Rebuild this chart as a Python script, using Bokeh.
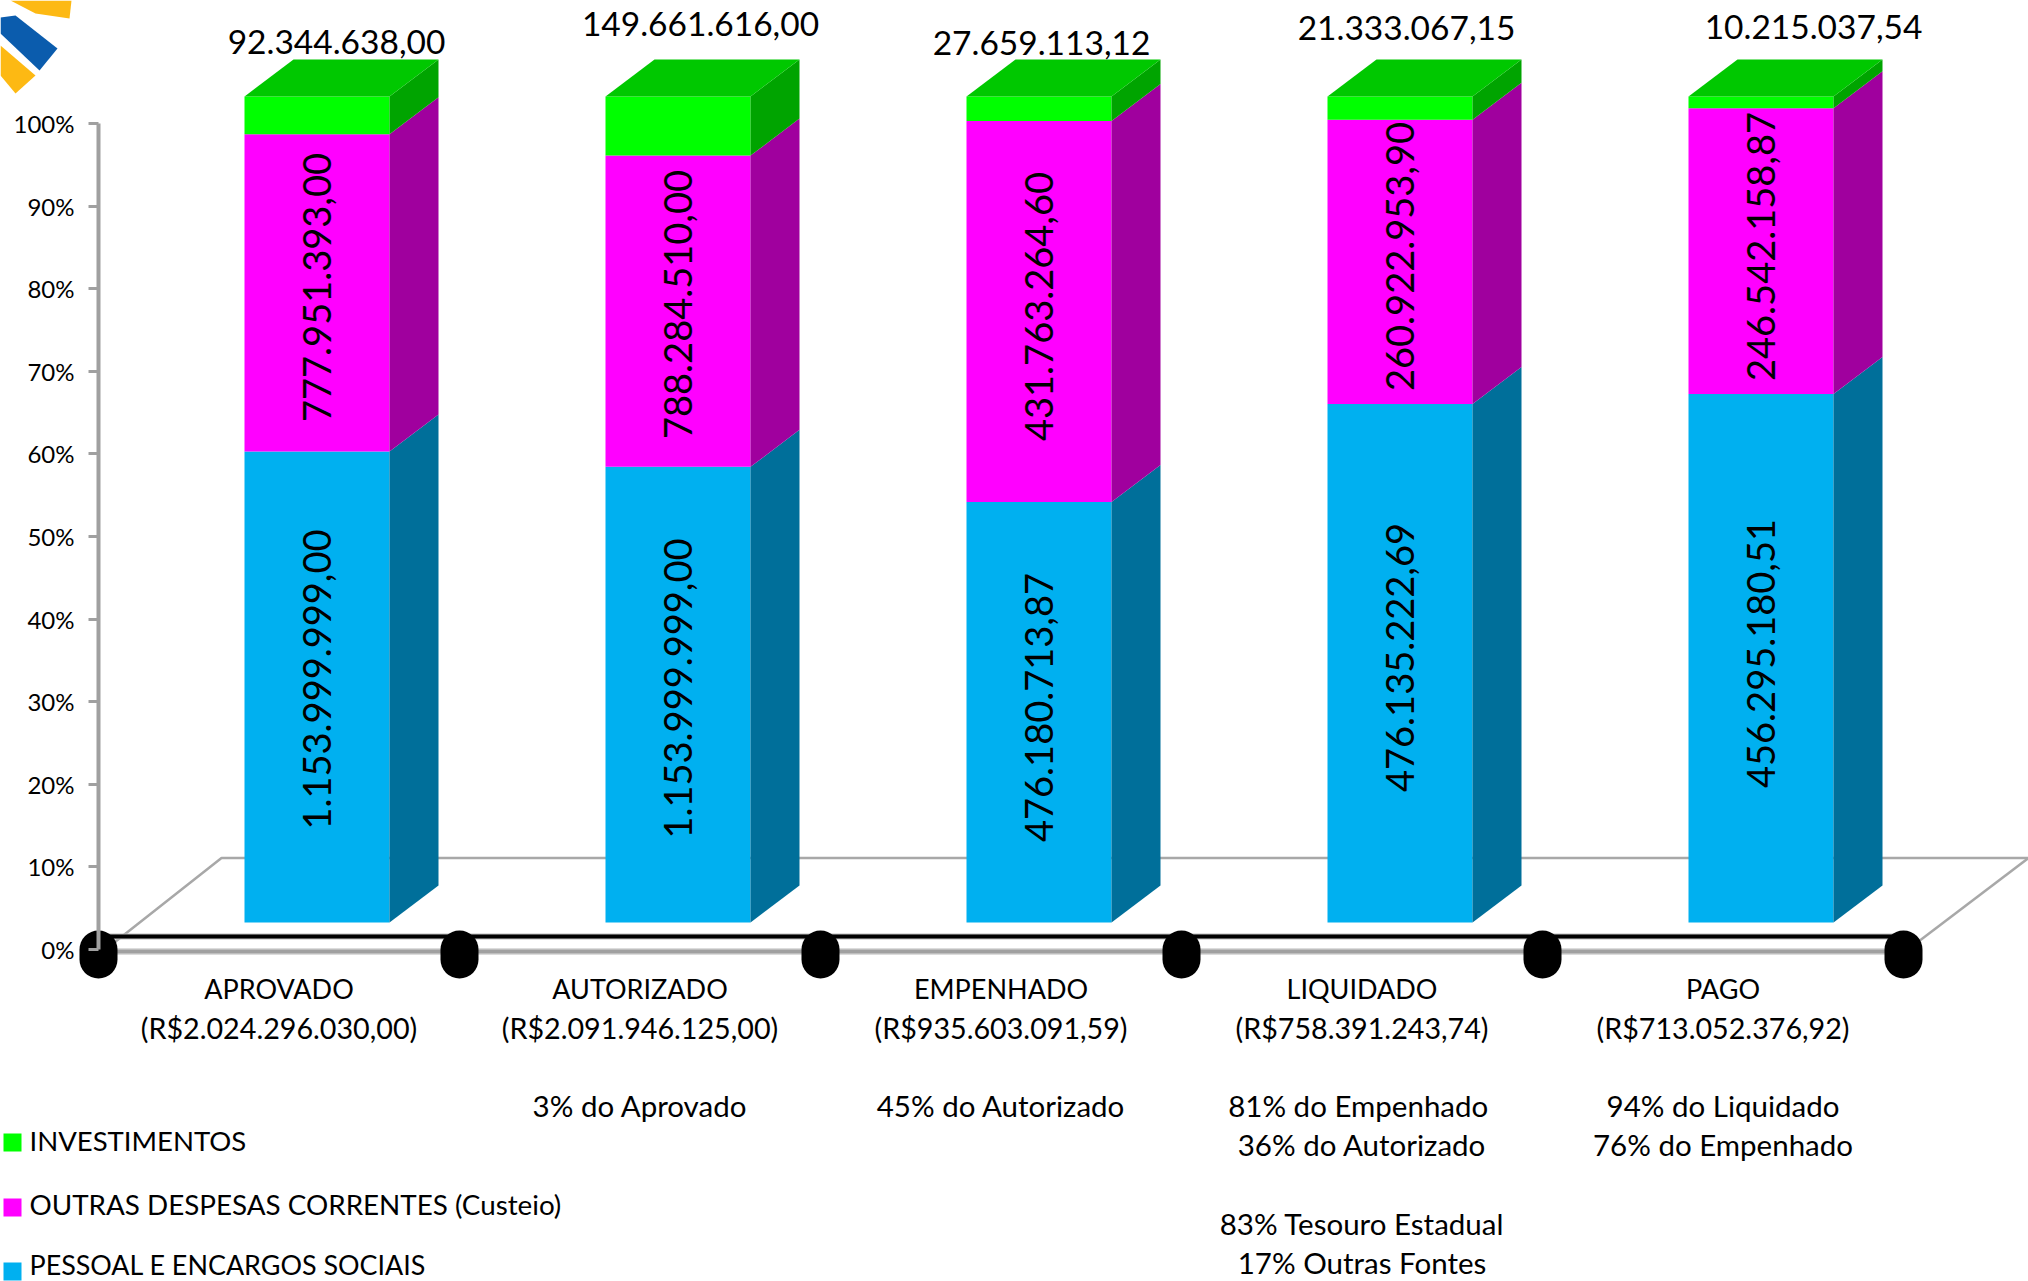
import math
from bokeh.plotting import figure
from bokeh.models import Range1d, FixedTicker
from bokeh.core.properties import value
from bokeh.embed import file_html
from bokeh.resources import INLINE

# ---------- data ----------
categories = ["APROVADO", "AUTORIZADO", "EMPENHADO", "LIQUIDADO", "PAGO"]
pessoal = [1153999999.00, 1153999999.00, 476180713.87, 476135222.69, 456295180.51]
outras = [777951393.00, 788284510.00, 431763264.60, 260922953.90, 246542158.87]
investimentos = [92344638.00, 149661616.00, 27659113.12, 21333067.15, 10215037.54]
totais = ["(R$2.024.296.030,00)", "(R$2.091.946.125,00)", "(R$935.603.091,59)",
          "(R$758.391.243,74)", "(R$713.052.376,92)"]
notas_1 = ["", "3% do Aprovado", "45% do Autorizado", "81% do  Empenhado", "94% do Liquidado"]
notas_2 = ["", "", "", "36% do Autorizado", "76% do Empenhado"]
notas_3 = ["", "", "", "83% Tesouro Estadual", ""]
notas_4 = ["", "", "", "17% Outras Fontes", ""]
legenda = ["INVESTIMENTOS", "OUTRAS DESPESAS CORRENTES (Custeio)", "PESSOAL E ENCARGOS SOCIAIS"]
y_ticks = [0, 10, 20, 30, 40, 50, 60, 70, 80, 90, 100]
y_tick_labels = ["0%", "10%", "20%", "30%", "40%", "50%", "60%", "70%", "80%", "90%", "100%"]

# ---------- layout (page pixels) ----------
FONT = value("Lato")
PX_X = 361.0
PX_Y = 8.26
X = lambda px: (px - 98) / PX_X
Y = lambda px: (949 - px) / PX_Y
XS = lambda l: [X(v) for v in l]
YS = lambda l: [Y(v) for v in l]

BAR_LEFT = X(244)
BAR_W = 145 / PX_X
DEPTH_X = 49 / PX_X
DEPTH_Y = 37 / PX_Y
BASE = 27 / PX_Y

C_BLUE, C_BLUE_S = "#00B0F0", "#006F9A"
C_MAG, C_MAG_S = "#FF00FF", "#A0009E"
C_GRN, C_GRN_S, C_GRN_T = "#00FF00", "#00A400", "#00C800"

p = figure(width=2028, height=1281, output_backend="svg", toolbar_location=None,
           x_range=Range1d(X(0), X(2028)), y_range=Range1d(Y(1281), Y(0)),
           x_axis_type=None, min_border=0, outline_line_color=None)
p.grid.visible = False
p.background_fill_color = "white"

# logo
p.patches([XS([10, 71, 69, 35]), XS([0, 15, 57, 39, 0]), XS([0, 35, 15, 0])],
          [YS([0, 0, 18, 13]), YS([17, 15, 48, 70, 33]), YS([45, 75, 93, 75])],
          fill_color=["#FDB913", "#0B5CAD", "#FDB913"], line_color=None)

# floor
p.line(XS([110, 221, 2028]), YS([945, 857.5, 857.5]), line_color="#a8a8a8", line_width=2.5)
p.line(XS([1918, 2028]), YS([941, 857.5]), line_color="#a8a8a8", line_width=2.5)

# y axis
p.yaxis.fixed_location = 0
p.yaxis.bounds = (0, 100)
p.yaxis.ticker = FixedTicker(ticks=y_ticks)
p.yaxis.major_label_overrides = {t: l for t, l in zip(y_ticks, y_tick_labels)}
p.yaxis.axis_line_color = "#a0a0a0"
p.yaxis.axis_line_width = 4
p.yaxis.major_tick_line_color = "#a0a0a0"
p.yaxis.major_tick_line_width = 3
p.yaxis.major_tick_in = 0
p.yaxis.major_tick_out = 10
p.yaxis.minor_tick_line_color = None
p.yaxis.major_label_text_font = "Lato"
p.yaxis.major_label_text_font_size = "24px"
p.yaxis.major_label_text_color = "black"
p.yaxis.major_label_standoff = 14

# stacked bars with depth
n = len(categories)
tot = [pessoal[i] + outras[i] + investimentos[i] for i in range(n)]
series = [(pessoal, C_BLUE, C_BLUE_S), (outras, C_MAG, C_MAG_S), (investimentos, C_GRN, C_GRN_S)]
running = [0.0] * n
for vals, front, side in series:
    bottoms = [BASE + running[i] / tot[i] * 100 for i in range(n)]
    running = [running[i] + vals[i] for i in range(n)]
    tops = [BASE + running[i] / tot[i] * 100 for i in range(n)]
    lefts = [i + BAR_LEFT for i in range(n)]
    rights = [l + BAR_W for l in lefts]
    p.quad(left=lefts, right=rights, bottom=bottoms, top=tops, fill_color=front, line_color=None)
    xs = [[r, r + DEPTH_X, r + DEPTH_X, r] for r in rights]
    ys = [[b, b + DEPTH_Y, t + DEPTH_Y, t] for b, t in zip(bottoms, tops)]
    p.patches(xs, ys, fill_color=side, line_color=None)
xs = [[l, l + DEPTH_X, r + DEPTH_X, r] for l, r in zip(lefts, rights)]
ys = [[t, t + DEPTH_Y, t + DEPTH_Y, t] for t in tops]
p.patches(xs, ys, fill_color=C_GRN_T, line_color=None)

# base rails
ax = [0, n]
p.line(ax, [Y(951)] * 2, line_color="#dcdcdc", line_width=7)
p.line(ax, [Y(951)] * 2, line_color="#a0a0a0", line_width=4)
p.line(ax, [Y(936)] * 2, line_color="#bdbdbd", line_width=6)
p.line(ax, [Y(936)] * 2, line_color="black", line_width=4)
p.segment(x0=list(range(n + 1)), x1=list(range(n + 1)), y0=[Y(949)] * (n + 1), y1=[Y(959)] * (n + 1),
          line_color="black", line_width=38, line_cap="round")


def br(v):
    return f"{v:,.2f}".replace(",", "#").replace(".", ",").replace("#", ".")


# value labels above bars
top_x = [336, 700, 1041, 1406, 1813]
top_y = [41, 23, 42, 27, 26]
p.text(XS(top_x), YS(top_y), text=[br(v) for v in investimentos], text_font=FONT,
       text_font_size="33.5px", text_align="center", text_baseline="middle", text_color="black")

# rotated labels
rot_x = [316, 677, 1038, 1399, 1760]
blue_y = [679, 688, 707, 657, 653]
mag_y = [287, 304, 306, 256, 246]
p.text(XS(rot_x), YS(blue_y), text=[br(v) for v in pessoal], angle=math.pi / 2, text_font=FONT,
       text_font_size="38px", text_align="center", text_baseline="middle", text_color="black")
p.text(XS(rot_x), YS(mag_y), text=[br(v) for v in outras], angle=math.pi / 2, text_font=FONT,
       text_font_size="38px", text_align="center", text_baseline="middle", text_color="black")

# category text rows
rows = [(categories, 988, "27px"), (totais, 1027, "28.7px"), (notas_1, 1105, "29.5px"),
        (notas_2, 1144, "29.5px"), (notas_3, 1223, "29.5px"), (notas_4, 1262, "29.5px")]
for labels, row_px, size in rows:
    idx = [i for i, t in enumerate(labels) if t]
    p.text([i + 0.5 for i in idx], [Y(row_px)] * len(idx), text=[labels[i] for i in idx], text_font=FONT,
           text_font_size=size, text_align="center", text_baseline="middle", text_color="black")

# legend
leg_y = [1140, 1204, 1264]
leg_box = [1142, 1207, 1271]
leg_c = [C_GRN, C_MAG, C_BLUE]
leg_size = ["27.5px", "27.8px", "26.9px"]
p.quad(left=[X(3)] * 3, right=[X(21)] * 3, top=[Y(v - 9) for v in leg_box], bottom=[Y(v + 9) for v in leg_box],
       fill_color=leg_c, line_color=None)
for name, ly, size in zip(legenda, leg_y, leg_size):
    p.text([X(29)], [Y(ly)], text=[name], text_font=FONT, text_font_size=size,
           text_align="left", text_baseline="middle", text_color="black")

open("out.html", "w").write(file_html(p, INLINE))
